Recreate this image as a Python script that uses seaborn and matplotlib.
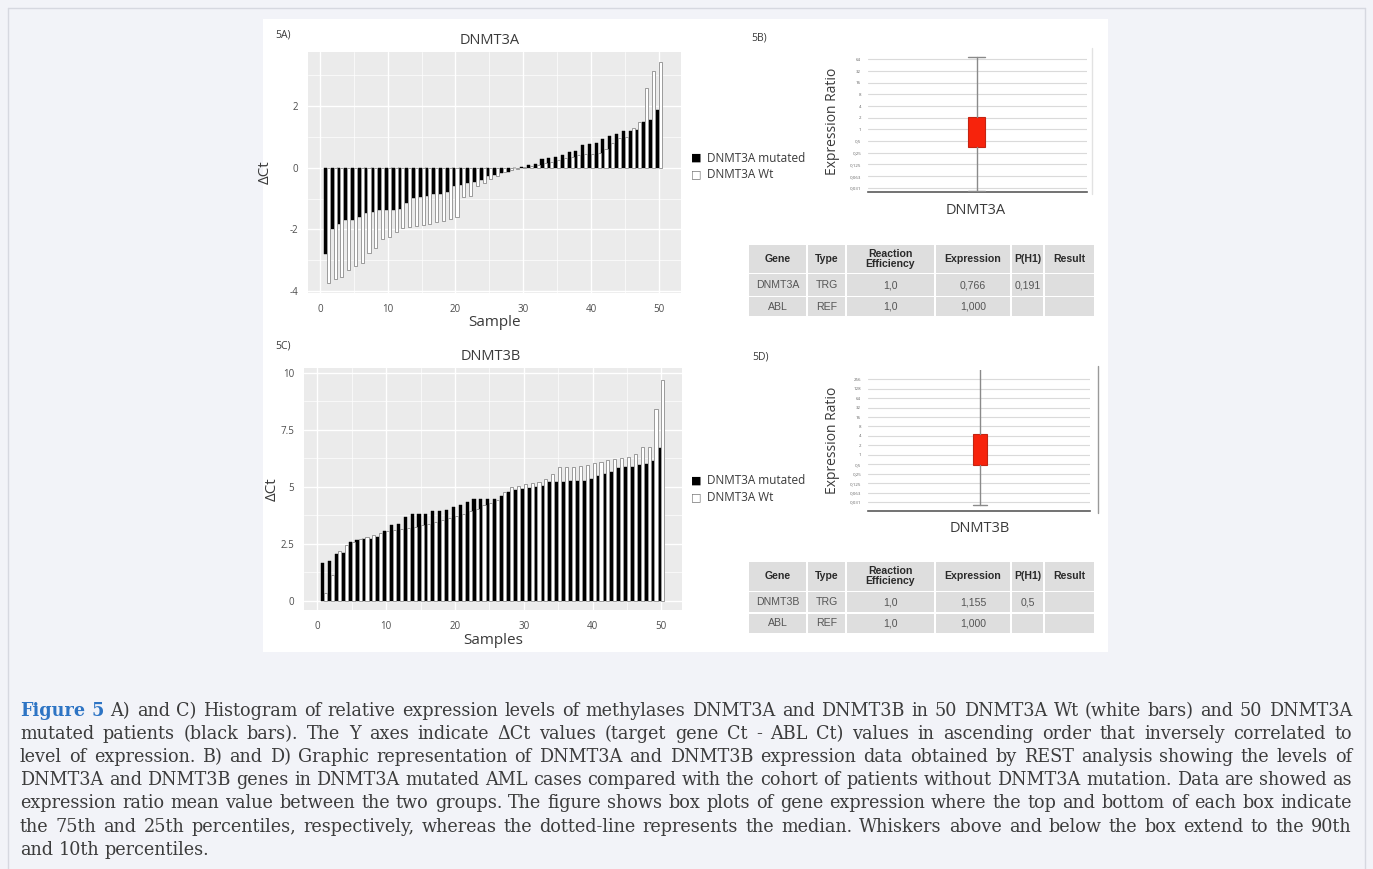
import numpy as np
import pandas as pd
import matplotlib
matplotlib.use("Agg")
import matplotlib.pyplot as plt
import seaborn as sns
from matplotlib.patches import Rectangle
from matplotlib.lines import Line2D

W, H = 1373, 869

# ---------------- data ----------------
samples = list(range(1, 51))
groups = ["DNMT3A mutated", "DNMT3A Wt"]

dnmt3a_mutated = [-2.79, -1.98, -1.82, -1.71, -1.71, -1.60, -1.47, -1.44, -1.38, -1.36,
                  -1.36, -1.33, -1.15, -0.97, -0.95, -0.93, -0.86, -0.84, -0.80, -0.60,
                  -0.57, -0.50, -0.46, -0.41, -0.28, -0.23, -0.17, -0.14, -0.02, 0.02,
                  0.10, 0.11, 0.28, 0.32, 0.35, 0.40, 0.51, 0.54, 0.75, 0.76,
                  0.80, 0.94, 1.04, 1.10, 1.18, 1.18, 1.21, 1.47, 1.54, 1.86]
dnmt3a_wt = [-3.74, -3.62, -3.55, -3.33, -3.20, -3.09, -2.75, -2.60, -2.30, -2.25,
             -2.09, -1.96, -1.93, -1.90, -1.87, -1.82, -1.76, -1.73, -1.66, -1.60,
             -0.96, -0.92, -0.60, -0.50, -0.36, -0.28, -0.15, -0.08, -0.03, 0.02,
             0.05, 0.08, 0.15, 0.20, 0.25, 0.30, 0.36, 0.40, 0.45, 0.45,
             0.48, 0.60, 0.80, 0.95, 1.00, 1.30, 1.48, 2.58, 3.14, 3.41]

dnmt3b_mutated = [1.67, 1.75, 2.03, 2.08, 2.56, 2.65, 2.70, 2.72, 2.81, 3.05,
                  3.30, 3.36, 3.68, 3.78, 3.82, 3.82, 3.92, 3.93, 3.98, 4.09,
                  4.18, 4.34, 4.44, 4.44, 4.44, 4.46, 4.59, 4.75, 4.85, 4.90,
                  4.93, 4.97, 5.03, 5.18, 5.19, 5.22, 5.26, 5.26, 5.26, 5.32,
                  5.47, 5.56, 5.66, 5.80, 5.85, 5.85, 5.94, 6.00, 6.13, 6.68]
dnmt3b_wt = [0.35, 1.13, 2.19, 2.45, 2.55, 2.72, 2.78, 2.88, 2.95, 3.05,
             3.10, 3.13, 3.18, 3.25, 3.30, 3.35, 3.45, 3.55, 3.62, 3.72,
             3.80, 3.95, 4.00, 4.20, 4.30, 4.40, 4.75, 5.00, 5.03, 5.12,
             5.15, 5.22, 5.32, 5.56, 5.85, 5.88, 5.88, 5.90, 5.94, 6.05,
             6.10, 6.17, 6.20, 6.24, 6.29, 6.43, 6.72, 6.72, 8.39, 9.68]

box_genes = ["DNMT3A", "DNMT3B"]
box_q1 = [0.356, 0.47]
box_q3 = [2.04, 4.6]
box_median = [0.766, 1.155]
box_whislo = [0.0256, 0.025]
box_whishi = [74.6, 600.0]

ratio_ticks_a = [64, 32, 16, 8, 4, 2, 1, 0.5, 0.25, 0.125, 0.0625, 0.03125]
ratio_labels_a = ["64", "32", "16", "8", "4", "2", "1", "0,5", "0,25", "0,125", "0,063", "0,031"]
ratio_ticks_b = [256, 128] + ratio_ticks_a
ratio_labels_b = ["256", "128"] + ratio_labels_a

table_header = ["Gene", "Type", "Reaction\nEfficiency", "Expression", "P(H1)", "Result"]
table_a_rows = [["DNMT3A", "TRG", "1,0", "0,766", "0,191", ""],
                ["ABL", "REF", "1,0", "1,000", "", ""]]
table_b_rows = [["DNMT3B", "TRG", "1,0", "1,155", "0,5", ""],
                ["ABL", "REF", "1,0", "1,000", "", ""]]

caption_lines = [
    "Figure 5 A) and C) Histogram of relative expression levels of methylases DNMT3A and DNMT3B in 50 DNMT3A Wt (white bars) and 50 DNMT3A",
    "mutated patients (black bars). The Y axes indicate \u0394Ct values (target gene Ct - ABL Ct) values in ascending order that inversely correlated to",
    "level of expression. B) and D) Graphic representation of DNMT3A and DNMT3B expression data obtained by REST analysis showing the levels of",
    "DNMT3A and DNMT3B genes in DNMT3A mutated AML cases compared with the cohort of patients without DNMT3A mutation. Data are showed as",
    "expression ratio mean value between the two groups. The figure shows box plots of gene expression where the top and bottom of each box indicate",
    "the 75th and 25th percentiles, respectively, whereas the dotted-line represents the median. Whiskers above and below the box extend to the 90th",
    "and 10th percentiles.",
]

# ---------------- figure ----------------
sns.set_style("white")
plt.rcParams["font.family"] = ["Open Sans", "DejaVu Sans"]

fig = plt.figure(figsize=(W / 100, H / 100), dpi=100)
fig.patch.set_facecolor("#f2f3f8")

def px_axes(x0, y0, x1, y1, **kw):
    return fig.add_axes([x0 / W, 1 - y1 / H, (x1 - x0) / W, (y1 - y0) / H], **kw)

def fig_line(xs, ys, color, lw):
    fig.add_artist(Line2D([x / W for x in xs], [1 - y / H for y in ys],
                          color=color, lw=lw, transform=fig.transFigure))

# white image panel and page frame
fig.add_artist(Rectangle((263 / W, 1 - 652 / H), (1108 - 263) / W, (652 - 19) / H,
                         transform=fig.transFigure, facecolor="white", edgecolor="none", zorder=0))
fig_line([8, 8], [8, 869], "#d6d8e0", 1.0)
fig_line([1365, 1365], [8, 869], "#d6d8e0", 1.0)
fig_line([8, 1365], [8, 8], "#d6d8e0", 1.0)

TXT = "#3a3a3a"

def bar_panel(box, mut, wt, ylim, xlim, yticks, yminor, ylabels, title, xlabel, tag, tagpos, titlepos, xlabpos, ylabpos, legpos):
    ax = px_axes(*box)
    df = pd.DataFrame({"Sample": samples * 2,
                       "dCt": list(mut) + list(wt),
                       "Group": [groups[0]] * len(mut) + [groups[1]] * len(wt)})
    sns.barplot(data=df, x="Sample", y="dCt", hue="Group", hue_order=groups,
                palette={groups[0]: "black", groups[1]: "white"},
                native_scale=True, dodge=True, width=0.9, errorbar=None,
                legend=False, ax=ax, zorder=3)
    for p in ax.patches:
        fc = p.get_facecolor()
        if fc[0] > 0.5:
            p.set_edgecolor("#8c8c8c")
            p.set_linewidth(0.6)
        else:
            p.set_edgecolor("black")
            p.set_linewidth(0.3)
    ax.set_facecolor("#ebebeb")
    ax.set_xlim(*xlim)
    ax.set_ylim(*ylim)
    ax.set_xticks([0, 10, 20, 30, 40, 50])
    ax.set_xticks([5, 15, 25, 35, 45], minor=True)
    ax.set_yticks(yticks)
    ax.set_yticklabels(ylabels)
    ax.set_yticks(yminor, minor=True)
    ax.grid(which="major", color="white", lw=1.0)
    ax.grid(which="minor", color="white", lw=0.5)
    ax.set_axisbelow(True)
    for s in ax.spines.values():
        s.set_visible(False)
    ax.tick_params(which="both", length=0, labelsize=7, labelcolor="#4d4d4d", pad=7)
    ax.tick_params(axis="x", pad=8)
    ax.set_xlabel(xlabel, fontsize=11, color=TXT, va="center")
    ax.set_ylabel("\u0394Ct", fontsize=11, color=TXT, va="center", ha="center")
    ax.xaxis.set_label_coords(*xlabpos)
    ax.yaxis.set_label_coords(*ylabpos)
    fig.text(titlepos[0] / W, 1 - titlepos[1] / H, title, fontsize=10.5, color=TXT, ha="center", va="center")
    fig.text(tagpos[0] / W, 1 - tagpos[1] / H, tag, fontsize=7.5, color=TXT, ha="center", va="center")
    lx, ly = legpos
    fig.text(lx / W, 1 - ly / H, "\u25A0", fontsize=8, color="black", ha="center", va="center",
             family="DejaVu Sans")
    fig.text(lx / W, 1 - (ly + 16) / H, "\u25A1", fontsize=8, color="#777777", ha="center", va="center",
             family="DejaVu Sans")
    fig.text((lx + 11) / W, 1 - ly / H, groups[0], fontsize=8.5, color=TXT, ha="left", va="center")
    fig.text((lx + 11) / W, 1 - (ly + 16) / H, groups[1], fontsize=8.5, color=TXT, ha="left", va="center")
    return ax

# ---- panel 5A ----
boxA = (308, 52, 681, 293)
bar_panel(boxA, dnmt3a_mutated, dnmt3a_wt, (-4.06, 3.75), (-1.78, 53.3),
          [-4, -2, 0, 2], [-3, -1, 1, 3], ["-4", "-2", "0", "2"],
          "DNMT3A", "Sample", "5A)", (283, 35), (490, 40),
          (0.5, -(323 - 293) / 241), (-(308 - 265) / 373, 0.5), (696, 158))

# ---- panel 5C ----
boxC = (304, 368, 682, 610)
bar_panel(boxC, dnmt3b_mutated, dnmt3b_wt, (-0.41, 10.2), (-1.93, 53.0),
          [0, 2.5, 5, 7.5, 10], [1.25, 3.75, 6.25, 8.75], ["0", "2.5", "5", "7.5", "10"],
          "DNMT3B", "Samples", "5C)", (283, 346), (491, 356),
          (0.5, -(640 - 610) / 242), (-(304 - 272) / 378, 0.5), (696, 481))

# ---------------- box panels ----------------
def box_panel(box, idx, ticks, labels, ylim, pos, right_line, tag, tagpos, ylabpos, genepos, capw):
    ax = px_axes(*box)
    stats = [{"med": box_median[idx], "q1": box_q1[idx], "q3": box_q3[idx],
              "whislo": box_whislo[idx], "whishi": box_whishi[idx], "fliers": [],
              "label": box_genes[idx]}]
    ax.set_yscale("log", base=2)
    ax.bxp(stats, positions=[pos], widths=capw, patch_artist=True, showfliers=False,
           boxprops=dict(facecolor="#f7230c", edgecolor="#c42412", lw=0.8),
           medianprops=dict(color="#f7230c", lw=0.0),
           whiskerprops=dict(color="#8a8a8a", lw=1.0),
           capprops=dict(color="#8a8a8a", lw=1.0), capwidths=capw, zorder=3)
    ax.set_xlim(0, 2)
    ax.set_ylim(*ylim)
    ax.set_yticks(ticks)
    ax.set_yticklabels(labels)
    ax.yaxis.set_minor_locator(matplotlib.ticker.NullLocator())
    ax.set_xticks([])
    ax.grid(axis="y", color="#dadada", lw=0.8)
    ax.set_axisbelow(True)
    for k, s in ax.spines.items():
        s.set_visible(k == "bottom")
    ax.spines["bottom"].set_color("#5a5a5a")
    ax.spines["bottom"].set_linewidth(1.2)
    ax.tick_params(axis="y", length=0, labelsize=3.2, labelcolor="#666666", pad=5)
    ax.set_ylabel("Expression Ratio", fontsize=10, color=TXT, va="center", ha="center")
    ax.yaxis.set_label_coords(*ylabpos)
    ax.set_facecolor("white")
    fig.text(genepos[0] / W, 1 - genepos[1] / H, box_genes[idx], fontsize=10.5, color=TXT,
             ha="center", va="center")
    fig.text(tagpos[0] / W, 1 - tagpos[1] / H, tag, fontsize=7.5, color=TXT, ha="center", va="center")
    fig_line([right_line[0], right_line[0]], [right_line[1], right_line[2]], right_line[3], 1.0)
    return ax

# 5B: log2 6 at y=59.3, -5 at 187.7 ; 11.67 px / unit
box_panel((868, 50, 1087, 192.3), 0, ratio_ticks_a, ratio_labels_a,
          (2 ** -5.39, 2 ** 6.80), 0.993, (1092, 48, 194, "#e2e2e2"),
          "5B)", (759, 38), (-(868 - 833) / 219, 0.5), (976, 211), 0.155)

# 5D: log2 8 at y=379.3, -5 at 502 ; 9.44 px / unit
box_panel((868, 370, 1090, 510.7), 1, ratio_ticks_b, ratio_labels_b,
          (2 ** -5.92, 2 ** 8.98), 1.009, (1098, 366, 513, "#9a9a9a"),
          "5D)", (761, 357), (-(868 - 833) / 222, 0.5), (980, 529), 0.135)

# ---------------- tables ----------------
col_edges = [748, 807, 846, 935, 1011, 1044, 1095]

def draw_table(top, heights, rows):
    x0, x1 = col_edges[0], col_edges[-1]
    y1 = top + sum(heights)
    ax = px_axes(x0, top, x1, y1)
    ax.set_xlim(x0, x1)
    ax.set_ylim(y1, top)
    ax.axis("off")
    all_rows = [table_header] + rows
    y = top
    for r, (h, row) in enumerate(zip(heights, all_rows)):
        for c in range(len(col_edges) - 1):
            cx0, cx1 = col_edges[c], col_edges[c + 1]
            ax.add_patch(Rectangle((cx0 + 0.75, y + 0.75), cx1 - cx0 - 1.5, h - 1.5,
                                   facecolor="#dedede", edgecolor="none"))
            ax.text((cx0 + cx1) / 2, y + h / 2, row[c], ha="center", va="center",
                    fontsize=7.6, family=["Liberation Sans", "DejaVu Sans"],
                    fontweight="bold" if r == 0 else "normal",
                    color="#2a2a2a" if r == 0 else "#555555", linespacing=1.0)
        y += h

draw_table(244, [29.5, 23, 20.5], table_a_rows)
draw_table(561, [30.5, 21.5, 20.5], table_b_rows)

# ---------------- caption (justified) ----------------
fig.canvas.draw()
renderer = fig.canvas.get_renderer()
x_left, x_right = 20, 1352

def measure(s, **kw):
    t = fig.text(0, 0, s, **kw)
    w = t.get_window_extent(renderer).width
    t.remove()
    return w

def natural_width(line, size):
    return measure(line, family=["DejaVu Serif"], fontsize=size)

# choose the size so the widest line nearly fills the measure
longest = max(caption_lines[:-1], key=len)
size = 11.0
for _ in range(4):
    size *= (x_right - x_left - 8) / natural_width(longest, size)
cap_kw = dict(family=["DejaVu Serif"], fontsize=size)

space_w = measure("a a", **cap_kw) - measure("aa", **cap_kw)
baselines = [716, 739, 762, 785, 808, 832, 855]
for li, (line, yb) in enumerate(zip(caption_lines, baselines)):
    words = line.split(" ")
    styles = []
    for wi, w in enumerate(words):
        kw = dict(cap_kw)
        if li == 0 and wi < 2:
            kw.update(color="#2d74c4", fontweight="bold")
        else:
            kw.update(color="#3c3c3c")
        styles.append(kw)
    widths = [measure(w, **k) for w, k in zip(words, styles)]
    if li < len(caption_lines) - 1:
        gap = (x_right - x_left - sum(widths)) / (len(words) - 1)
    else:
        gap = space_w
    x = x_left
    for w, k, wd in zip(words, styles, widths):
        fig.text(x / W, 1 - yb / H, w, ha="left", va="baseline", **k)
        x += wd + gap

fig.savefig("out.png", dpi=100, facecolor=fig.get_facecolor())
